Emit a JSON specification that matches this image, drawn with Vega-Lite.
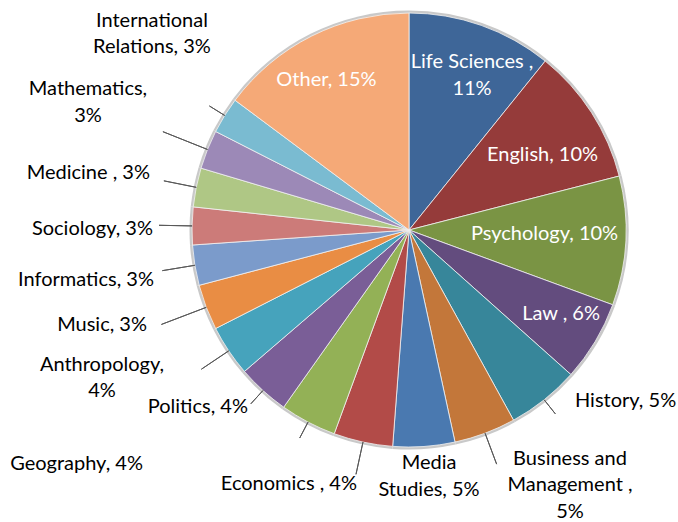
{
  "$schema": "https://vega.github.io/schema/vega-lite/v6.json",
  "width": 538,
  "height": 460,
  "autosize": {"type": "none"},
  "padding": {"left": 140, "top": 0, "right": 0, "bottom": 62},
  "background": "white",
  "config": {"view": {"stroke": null}, "text": {"font": "Lato", "fontSize": 20, "lineBreak": "\n", "lineHeight": 26.5, "baseline": "middle"}},
  "data": {"values": [
    {"o": 1, "name": "Life Sciences", "label": "Life Sciences ,\n11%", "value": 10.8},
    {"o": 2, "name": "English", "label": "English, 10%", "value": 10.2},
    {"o": 3, "name": "Psychology", "label": "Psychology, 10%", "value": 9.6},
    {"o": 4, "name": "Law", "label": "Law , 6%", "value": 6.0},
    {"o": 5, "name": "History", "label": "History, 5%", "value": 5.4},
    {"o": 6, "name": "Business and Management", "label": "Business and\nManagement ,\n5%", "value": 4.6},
    {"o": 7, "name": "Media Studies", "label": "Media\nStudies, 5%", "value": 4.6},
    {"o": 8, "name": "Economics", "label": "Economics , 4%", "value": 4.4},
    {"o": 9, "name": "Geography", "label": "Geography, 4%", "value": 4.2},
    {"o": 10, "name": "Politics", "label": "Politics, 4%", "value": 3.9},
    {"o": 11, "name": "Anthropology", "label": "Anthropology,\n4%", "value": 3.8},
    {"o": 12, "name": "Music", "label": "Music, 3%", "value": 3.4},
    {"o": 13, "name": "Informatics", "label": "Informatics, 3%", "value": 3.0},
    {"o": 14, "name": "Sociology", "label": "Sociology, 3%", "value": 2.8},
    {"o": 15, "name": "Medicine", "label": "Medicine , 3%", "value": 2.9},
    {"o": 16, "name": "Mathematics", "label": "Mathematics,\n3%", "value": 2.9},
    {"o": 17, "name": "International Relations", "label": "International\nRelations, 3%", "value": 2.7},
    {"o": 18, "name": "Other", "label": "Other, 15%", "value": 14.8}
  ]},
  "encoding": {
    "theta": {"field": "value", "type": "quantitative", "stack": true},
    "order": {"field": "o", "type": "quantitative"},
    "detail": {"field": "name", "type": "nominal"}
  },
  "layer": [
    {"mark": {"type": "arc", "outerRadius": 219.5, "fill": "#c9c9c9"}},
    {"mark": {"type": "arc", "outerRadius": 217, "stroke": "#f2f2f2", "strokeWidth": 0.8},
     "encoding": {"color": {"field": "name", "type": "nominal", "legend": null,
       "scale": {"domain": ["Life Sciences", "English", "Psychology", "Law", "History", "Business and Management", "Media Studies", "Economics", "Geography", "Politics", "Anthropology", "Music", "Informatics", "Sociology", "Medicine", "Mathematics", "International Relations", "Other"],
                 "range": ["#3E6698", "#953B3A", "#7A9444", "#634C7E", "#37869A", "#C3773A", "#4A79B0", "#B24B48", "#93B156", "#7A5E97", "#46A3BC", "#E98D44", "#7B9BCB", "#CC7B79", "#AFC785", "#9C89B7", "#7ABBD1", "#F5A977"]}}}},
    {"mark": {"type": "arc", "innerRadius": 217, "outerRadius": 235, "padAngle": 1.2, "filled": false, "stroke": "#595959", "strokeWidth": 1},
     "encoding": {"strokeOpacity": {"condition": {"test": "indexof(['History','Politics','Geography','International Relations'], datum.name) >= 0", "value": 1}, "value": 0}}},
    {"mark": {"type": "arc", "innerRadius": 217, "outerRadius": 250, "padAngle": 1.2, "filled": false, "stroke": "#595959", "strokeWidth": 1},
     "encoding": {"strokeOpacity": {"condition": {"test": "indexof(['Business and Management','Informatics','Sociology','Anthropology','Economics','Medicine'], datum.name) >= 0", "value": 1}, "value": 0}}},
    {"mark": {"type": "arc", "innerRadius": 217, "outerRadius": 265, "padAngle": 1.2, "filled": false, "stroke": "#595959", "strokeWidth": 1},
     "encoding": {"strokeOpacity": {"condition": {"test": "indexof(['Music','Mathematics'], datum.name) >= 0", "value": 1}, "value": 0}}},
    {"mark": {"type": "text", "align": "center", "fill": "white", "thetaOffset": 0.0196}, "encoding": {"radius": {"value": 179.4}, "text": {"condition": {"test": "datum.name === 'Life Sciences'", "field": "label"}, "value": ""}}},
    {"mark": {"type": "text", "align": "center", "fill": "white", "thetaOffset": 0.061}, "encoding": {"radius": {"value": 153.1}, "text": {"condition": {"test": "datum.name === 'English'", "field": "label"}, "value": ""}}},
    {"mark": {"type": "text", "align": "center", "fill": "white", "thetaOffset": -0.02}, "encoding": {"radius": {"value": 135.6}, "text": {"condition": {"test": "datum.name === 'Psychology'", "field": "label"}, "value": ""}}},
    {"mark": {"type": "text", "align": "center", "fill": "white", "thetaOffset": -0.036}, "encoding": {"radius": {"value": 173.7}, "text": {"condition": {"test": "datum.name === 'Law'", "field": "label"}, "value": ""}}},
    {"mark": {"type": "text", "align": "center", "fill": "white", "thetaOffset": -0.038}, "encoding": {"radius": {"value": 171.2}, "text": {"condition": {"test": "datum.name === 'Other'", "field": "label"}, "value": ""}}},
    {"mark": {"type": "text", "align": "left", "fill": "black", "thetaOffset": -0.0983}, "encoding": {"radius": {"value": 238.3}, "text": {"condition": {"test": "datum.name === 'History'", "field": "label"}, "value": ""}}},
    {"mark": {"type": "text", "align": "center", "fill": "black", "thetaOffset": -0.2547}, "encoding": {"radius": {"value": 279.9}, "text": {"condition": {"test": "datum.name === 'Business and Management'", "field": "label"}, "value": ""}}},
    {"mark": {"type": "text", "align": "center", "fill": "black", "thetaOffset": -0.0166}, "encoding": {"radius": {"value": 233.9}, "text": {"condition": {"test": "datum.name === 'Media Studies'", "field": "label"}, "value": ""}}},
    {"mark": {"type": "text", "align": "right", "fill": "black", "thetaOffset": -0.0117}, "encoding": {"radius": {"value": 259.3}, "text": {"condition": {"test": "datum.name === 'Economics'", "field": "label"}, "value": ""}}},
    {"mark": {"type": "text", "align": "right", "fill": "black", "thetaOffset": 0.3655}, "encoding": {"radius": {"value": 354.3}, "text": {"condition": {"test": "datum.name === 'Geography'", "field": "label"}, "value": ""}}},
    {"mark": {"type": "text", "align": "right", "fill": "black", "thetaOffset": 0}, "encoding": {"radius": {"value": 239.3}, "text": {"condition": {"test": "datum.name === 'Politics'", "field": "label"}, "value": ""}}},
    {"mark": {"type": "text", "align": "center", "fill": "black", "thetaOffset": 0.1765}, "encoding": {"radius": {"value": 335.4}, "text": {"condition": {"test": "datum.name === 'Anthropology'", "field": "label"}, "value": ""}}},
    {"mark": {"type": "text", "align": "right", "fill": "black", "thetaOffset": 0.0166}, "encoding": {"radius": {"value": 278.7}, "text": {"condition": {"test": "datum.name === 'Music'", "field": "label"}, "value": ""}}},
    {"mark": {"type": "text", "align": "right", "fill": "black", "thetaOffset": -0.0302}, "encoding": {"radius": {"value": 259.9}, "text": {"condition": {"test": "datum.name === 'Informatics'", "field": "label"}, "value": ""}}},
    {"mark": {"type": "text", "align": "right", "fill": "black", "thetaOffset": -0.015}, "encoding": {"radius": {"value": 256}, "text": {"condition": {"test": "datum.name === 'Sociology'", "field": "label"}, "value": ""}}},
    {"mark": {"type": "text", "align": "right", "fill": "black", "thetaOffset": 0.0187}, "encoding": {"radius": {"value": 265.2}, "text": {"condition": {"test": "datum.name === 'Medicine'", "field": "label"}, "value": ""}}},
    {"mark": {"type": "text", "align": "center", "fill": "black", "thetaOffset": 0.0337}, "encoding": {"radius": {"value": 350.6}, "text": {"condition": {"test": "datum.name === 'Mathematics'", "field": "label"}, "value": ""}}},
    {"mark": {"type": "text", "align": "center", "fill": "black", "thetaOffset": 0.1267}, "encoding": {"radius": {"value": 331.3}, "text": {"condition": {"test": "datum.name === 'International Relations'", "field": "label"}, "value": ""}}}
  ]
}
